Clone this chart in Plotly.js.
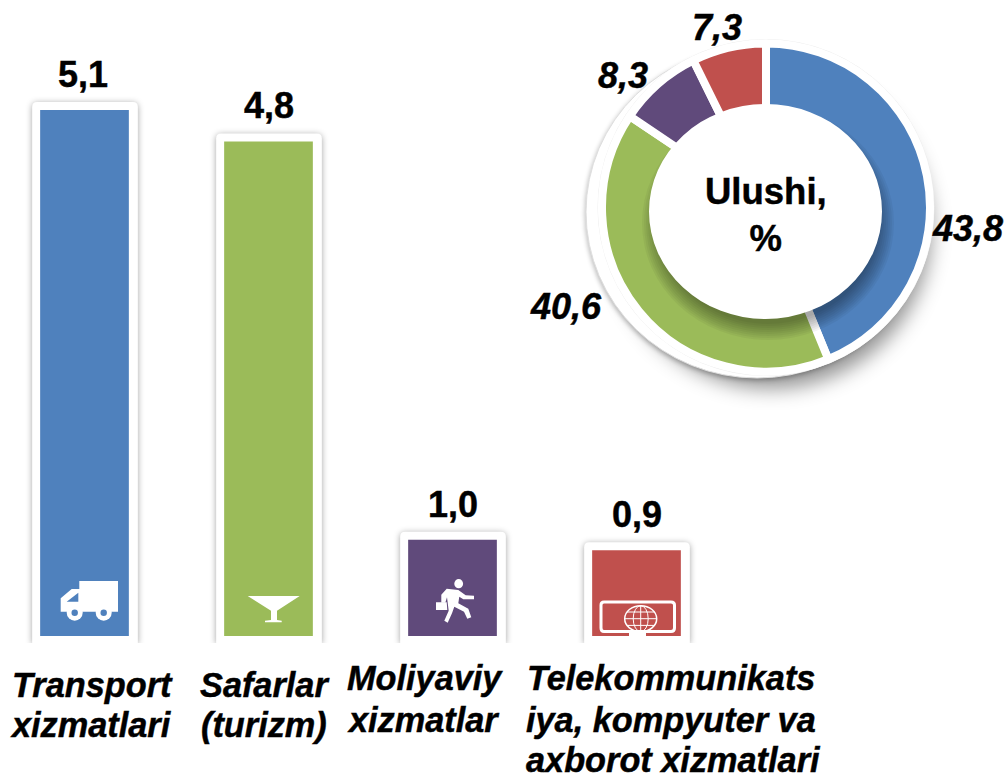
<!DOCTYPE html>
<html>
<head>
<meta charset="utf-8">
<script src="https://cdn.plot.ly/plotly-3.0.1.min.js"></script>
<style>html,body{margin:0;padding:0;background:#fff;overflow:hidden}
.annotation-text{stroke:#000;stroke-width:.45px}</style>
</head>
<body>
<div id="chart" style="width:1005px;height:774px"></div>
<script>
// ---- data ----
const categories = ["Transport xizmatlari", "Safarlar (turizm)", "Moliyaviy xizmatlar", "Telekommunikatsiya, kompyuter va axborot xizmatlari"];
const barValues = [5.1, 4.8, 1.0, 0.9];
const shareValues = [43.8, 40.6, 8.3, 7.3];
const colors = ["#4F81BD", "#9BBB59", "#604A7B", "#C0504D"];
const categoryLines = [["Transport", "xizmatlari"], ["Safarlar", "(turizm)"], ["Moliyaviy", "xizmatlar"], ["Telekommunikats", "iya, kompyuter va", "axborot xizmatlari"]];

// ---- layout constants (pixels) ----
const W = 1005, H = 774;
const FONT = "Liberation Sans, Arial, sans-serif";
const barBottom = 636, pxPerUnit = 104.8, barTopRef = 110;
const firstCenter = 84.5, spacing = 184, barPx = 88.7;
const pie = {cx: 766, cy: 207.5, r: 164};
const comma = v => v.toFixed(1).replace(".", ",");
const valueToPx = v => barTopRef + (barValues[0] - v) * pxPerUnit;
const categoryLineCenters = [[92.5, 90.5], [264.5, 264], [425, 423], [671, 670.5, 673]];
const categoryBaselines = [[696.7, 737], [697, 737], [690, 731.7], [690, 732, 771.7]];
const pieLabelPos = [[967, 240], [566, 318], [623, 87], [717, 39.5]];

// ---- helpers ----
const poly = (pts, ox, oy) => "M" + pts.map(p => (ox + p[0] / 3).toFixed(1) + " " + (oy + p[1] / 3).toFixed(1)).join("L") + "Z";
const white = {type: "path", xref: "x", yref: "y", layer: "above", fillcolor: "#fff", line: {width: 0}};
const pathShape = p => Object.assign({}, white, {path: p});
const ell = (cx, cy, rx, ry, fill, lineColor, lw, layer, opacity) => ({type: "circle", xref: "x", yref: "y", layer: layer || "above", opacity: opacity === undefined ? 1 : opacity,
  x0: cx - rx, x1: cx + rx, y0: cy - ry, y1: cy + ry, fillcolor: fill, line: {color: lineColor || fill, width: lw || 0}});
const seg = (x0, y0, x1, y1, lw) => ({type: "line", xref: "x", yref: "y", layer: "above", x0, y0, x1, y1, line: {color: "#fff", width: lw}});

// ---- shapes below the marks ----
const below = [];
const filterMap = [];
barValues.forEach((v, i) => {
  const c = firstCenter + i * spacing, l = c - barPx / 2 - 8, r = c + barPx / 2 + 9, t = valueToPx(v) - 8, b = 643;
  filterMap.push([below.length, "drop-shadow(0 1px 3px rgba(0,0,0,.36))"]);
  below.push({type: "path", xref: "x", yref: "y", layer: "below", line: {width: 0}, fillcolor: "#fff",
    path: `M${l} ${b}L${l} ${t + 5}Q${l} ${t} ${l + 5} ${t}L${r - 5} ${t}Q${r} ${t} ${r} ${t + 5}L${r} ${b}Z`});
});
below.push({type: "rect", xref: "x", yref: "y", layer: "below", x0: 0, x1: W, y0: 643, y1: 662, fillcolor: "#fff", line: {width: 0}});
filterMap.push([below.length, "drop-shadow(2px 16px 10px rgba(0,0,0,.42))"]);
below.push(ell(pie.cx + 3, pie.cy + 5, 160, 160, "#ffffff", "#ffffff", 0, "below"));
filterMap.push([below.length, "drop-shadow(-1px 2px 2px rgba(0,0,0,.24))"]);
below.push(ell(757, 212, 171, 166, "#ffffff", "#dedede", 1, "below"));
below.push(ell(pie.cx, pie.cy, 168, 168, "#ffffff", "#eeeeee", 1, "below"));

// ---- shapes above the marks: centre disc and icons ----
const above = [];
// soft shadow the raised disc throws on the ring
[126, 124, 122, 120, 118, 116, 114, 112, 110].forEach(rx => above.push(ell(768, 223, rx, rx - 9, "#000000", "#000000", 0, "above", 0.045)));
above.push(ell(765.5, 211.5, 116.5, 107.5, "#ffffff"));
// truck
above.push(pathShape(poly([[148, 33], [264, 33], [264, 125], [148, 125]], 30, 570)));
above.push(pathShape(poly([[92, 125], [92, 85], [125, 57], [150, 57], [150, 125]], 30, 570)));
above.push(Object.assign({}, white, {path: poly([[110, 95], [145, 68], [145, 95]], 30, 570), fillcolor: colors[0]}));
[74.7, 103.7].forEach(x => { above.push(ell(x, 612.7, 8, 8, "#ffffff")); above.push(ell(x, 612.7, 3.2, 3.2, colors[0])); });
// glass
above.push(pathShape(poly([[98, 78], [254, 78], [186, 122], [186, 150], [200, 152], [200, 157], [150, 157], [150, 152], [168, 150], [168, 122]], 215, 570)));
// runner
above.push(ell(458.7, 583.7, 4.4, 4.6, "#ffffff"));
above.push(pathShape(poly([[140, 56], [175, 60], [197, 76], [222, 77], [222, 88], [190, 88], [178, 80], [175, 100], [205, 116], [214, 142], [202, 146], [192, 125], [163, 110], [156, 130], [143, 158], [133, 152], [146, 122], [141, 82], [136, 98], [124, 98], [124, 74]], 400, 570)));
above.push(pathShape(poly([[108, 97], [140, 97], [142, 120], [108, 120]], 400, 570)));
// monitor with globe
above.push({type: "path", xref: "x", yref: "y", layer: "above", fillcolor: "rgba(0,0,0,0)", line: {color: "#fff", width: 3},
  path: "M604 602L671 602Q674.5 602 674.5 605L674.5 628Q674.5 631.5 671 631.5L604 631.5Q601 631.5 601 628L601 605Q601 602 604 602Z"});
above.push({type: "rect", xref: "x", yref: "y", layer: "above", x0: 629, x1: 646, y0: 632, y1: 636, fillcolor: "#fff", line: {width: 0}});
above.push(ell(640.7, 618.7, 16, 13, "rgba(0,0,0,0)", "#fff", 1.5));
above.push(ell(640.7, 618.7, 7.5, 13, "rgba(0,0,0,0)", "#fff", 1));
above.push(seg(640.7, 605.7, 640.7, 631.7, 1));
above.push(seg(624.7, 618.7, 656.7, 618.7, 1));
above.push(seg(627, 612, 654.4, 612, 1));
above.push(seg(627, 625.4, 654.4, 625.4, 1));

// ---- annotations ----
const annotations = [];
const txt = (text, x, y, size, extra) => Object.assign({text, x, y, xref: "x", yref: "y", showarrow: false, xanchor: "center", yanchor: "middle",
  font: {family: FONT, size, color: "#000", weight: 700}, borderpad: 0}, extra || {});
barValues.forEach((v, i) => annotations.push({text: comma(v), x: categories[i], y: v, xref: "x2", yref: "y2", showarrow: false,
  xanchor: "center", yanchor: "bottom", yshift: 14, xshift: i === 0 ? -2 : 0, font: {family: FONT, size: 36, color: "#000", weight: 700}, borderpad: 0}));
shareValues.forEach((v, i) => annotations.push(txt("<b><i>" + comma(v) + "</i></b>", pieLabelPos[i][0], pieLabelPos[i][1] - 12, 36)));
categoryLines.forEach((lines, i) => lines.forEach((line, j) =>
  annotations.push(txt("<b><i>" + line + "</i></b>", categoryLineCenters[i][j], categoryBaselines[i][j] - 12, 34.3))));
annotations.push(txt("<b>Ulushi,<br>%</b>", 765.5, 215, 36.5));

// ---- traces ----
const bars = {type: "bar", x: categories, y: barValues, xaxis: "x2", yaxis: "y2", width: barPx / spacing,
  marker: {color: colors, line: {width: 0}}, hoverinfo: "skip"};
const ring = {type: "pie", values: shareValues, labels: categories, sort: false, direction: "clockwise", rotation: 0, hole: 0.6,
  marker: {colors: colors, line: {color: "#fff", width: 8}}, textinfo: "none", hoverinfo: "skip", showlegend: false,
  domain: {x: [(pie.cx - pie.r) / W, (pie.cx + pie.r) / W], y: [1 - (pie.cy + pie.r) / H, 1 - (pie.cy - pie.r) / H]}};

const layout = {
  width: W, height: H, margin: {l: 0, r: 0, t: 0, b: 0}, showlegend: false, hovermode: false,
  paper_bgcolor: "#fff", plot_bgcolor: "rgba(0,0,0,0)",
  xaxis: {visible: false, range: [0, W], domain: [0, 1], fixedrange: true},
  yaxis: {visible: false, range: [H, 0], domain: [0, 1], fixedrange: true},
  xaxis2: {visible: false, type: "category", anchor: "y2", domain: [0, 1], categoryorder: "array", categoryarray: categories,
    range: [-firstCenter / spacing, (W - firstCenter) / spacing], fixedrange: true},
  yaxis2: {visible: false, anchor: "x2", domain: [(H - barBottom) / H, 1],
    range: [barValues[0] - (barBottom - barTopRef) / pxPerUnit, barValues[0] + barTopRef / pxPerUnit], fixedrange: true},
  shapes: below.concat(above),
  annotations: annotations
};

// an empty trace keeps the full-figure pixel axes alive
const pixelAxes = {type: "scatter", x: [], y: [], xaxis: "x", yaxis: "y", hoverinfo: "skip"};

Plotly.newPlot("chart", [pixelAxes, bars, ring], layout, {staticPlot: true, displayModeBar: false}).then(() => {
  const root = document.getElementById("chart");
  filterMap.forEach(([i, f]) => root.querySelectorAll(`path[data-index="${i}"]`).forEach(el => { el.style.filter = f; }));
});
</script>
</body>
</html>
